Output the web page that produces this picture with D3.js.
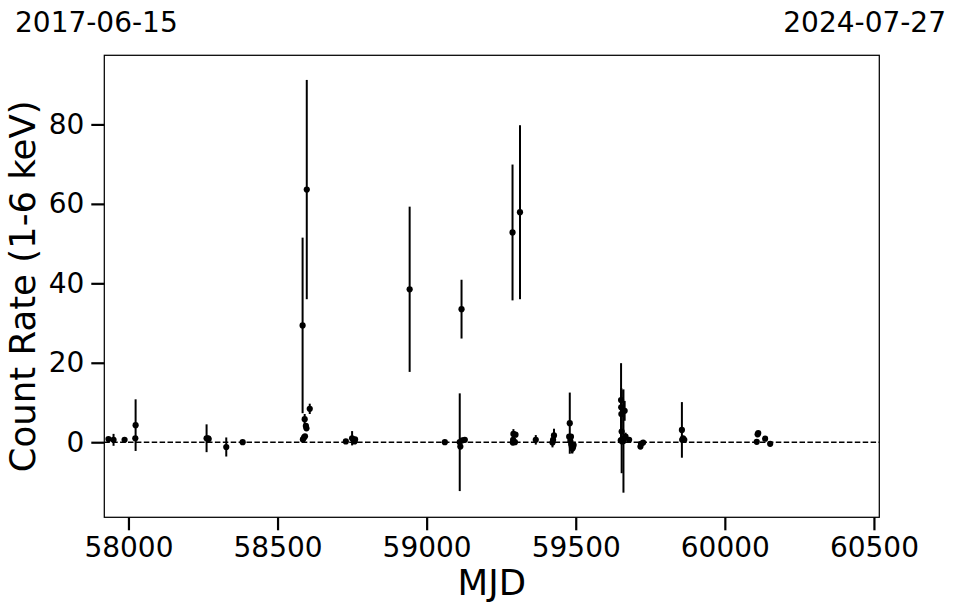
<!DOCTYPE html>
<html>
<head>
<meta charset="utf-8">
<script src="https://cdn.jsdelivr.net/npm/d3@7"></script>
<style>
  html, body { margin: 0; padding: 0; background: #fff; }
  svg text { font-family: "DejaVu Sans", sans-serif; fill: #000; }
</style>
</head>
<body>
<svg id="chart" width="957" height="613"></svg>
<script>
// ---- data ----
const mjd = [57933, 57950, 57987, 58023, 58024, 58262, 58267, 58269, 58328, 58383,
  58584, 58585, 58589, 58591, 58592, 58595, 58597, 58598, 58608,
  58729, 58750, 58755, 58758, 58760,
  58943, 59061, 59111, 59113, 59117, 59120, 59128,
  59288, 59289, 59290, 59291, 59296, 59298, 59313,
  59366, 59422, 59424, 59427,
  59478, 59480, 59482, 59484, 59485, 59487, 59489, 59491, 59493,
  59651, 59652, 59652.5, 59653, 59654, 59655, 59656, 59660, 59664, 59667, 59679,
  59717, 59719, 59726,
  59856, 59857, 59860, 59864,
  60107, 60110, 60112, 60135, 60152];
const rate = [0.8, 0.6, 0.6, 1.0, 4.3, 1.0, 1.0, 0.8, -1.2, 0.0,
  29.4, 0.7, 1.2, 5.8, 1.5, 4.1, 3.5, 63.6, 8.4,
  0.2, 1.0, 0.6, 0.2, 0.7,
  38.5, 0.0, 0.0, -1.1, 33.5, 0.5, 0.6,
  52.8, -0.1, 0.6, 2.1, 0.0, 1.9, 57.9,
  0.6, -0.1, 0.6, 1.7,
  1.4, 4.8, 0.3, 1.4, -0.6, -1.2, -1.6, -1.2, -0.7,
  0.5, 10.6, 8.8, 7.1, 2.7, 0.6, 0.2, 0.3, 7.9, 1.4, 0.6,
  -1.1, -0.4, -0.1,
  3.1, 0.6, 1.0, 0.6,
  0.1, 2.0, 2.3, 0.9, -0.4];
const err = [0.3, 1.5, 0.3, 0.5, 6.5, 3.5, 0.6, 0.5, 2.4, 0.3,
  22.1, 0.4, 0.5, 1.3, 0.4, 0.6, 0.5, 27.6, 1.3,
  0.3, 1.8, 0.5, 0.5, 0.5,
  20.8, 0.3, 12.3, 0.6, 7.4, 0.6, 0.5,
  17.1, 0.5, 0.5, 1.2, 0.4, 0.6, 21.9,
  1.2, 1.2, 0.5, 1.7,
  0.5, 7.7, 1.2, 0.5, 1.5, 1.6, 1.2, 1.1, 0.8,
  0.8, 9.3, 4.0, 6.5, 10.5, 1.0, 0.6, 13.0, 2.5, 1.0, 0.4,
  0.4, 0.3, 0.3,
  7.0, 0.6, 0.6, 0.4,
  0.3, 0.4, 0.3, 0.3, 0.3];
const xTicks = [58000, 58500, 59000, 59500, 60000, 60500];
const yTicks = [0, 20, 40, 60, 80];
const startDate = "2017-06-15";
const endDate = "2024-07-27";
const xLabel = "MJD";
const yLabel = "Count Rate (1-6 keV)";
const xDomain = [57919, 60518];
const yDomain = [-18.9, 97.4];

// ---- layout ----
const svg = d3.select("#chart");
const m = { left: 104.3, top: 55.3, right: 957 - 879.3, bottom: 613 - 517.3 };
const W = 957 - m.left - m.right, H = 613 - m.top - m.bottom;
const g = svg.append("g").attr("transform", `translate(${m.left},${m.top})`);

const x = d3.scaleLinear().domain(xDomain).range([0, W]);
const y = d3.scaleLinear().domain(yDomain).range([H, 0]);

const data = mjd.map((d, i) => ({ t: d, v: rate[i], e: err[i] }));

// zero line
g.append("line")
  .attr("x1", 0).attr("x2", W)
  .attr("y1", y(0)).attr("y2", y(0))
  .attr("stroke", "#000").attr("stroke-width", 1.5)
  .attr("stroke-dasharray", "5.5,2.4");

// error bars
g.append("g").selectAll("line").data(data).join("line")
  .attr("x1", d => x(d.t)).attr("x2", d => x(d.t))
  .attr("y1", d => y(d.v - d.e)).attr("y2", d => y(d.v + d.e))
  .attr("stroke", "#000").attr("stroke-width", 2);

// points
g.append("g").selectAll("circle").data(data).join("circle")
  .attr("cx", d => x(d.t)).attr("cy", d => y(d.v))
  .attr("r", 3.1).attr("fill", "#000");

// frame
g.append("rect").attr("x", 0).attr("y", 0).attr("width", W).attr("height", H)
  .attr("fill", "none").attr("stroke", "#000").attr("stroke-width", 1.25);

// axes
const xAxis = g.append("g").attr("transform", `translate(0,${H})`)
  .call(d3.axisBottom(x).tickValues(xTicks).tickFormat(d3.format("d")).tickSize(13).tickPadding(7));
const yAxis = g.append("g")
  .call(d3.axisLeft(y).tickValues(yTicks).tickFormat(d3.format("d")).tickSize(13).tickPadding(7));
[xAxis, yAxis].forEach(a => {
  a.select(".domain").remove();
  a.selectAll(".tick line").attr("stroke", "#000").attr("stroke-width", 2.2);
  a.selectAll(".tick text").attr("font-size", 28).attr("font-family", "DejaVu Sans").attr("fill", "#000");
});

// axis labels
svg.append("text").attr("x", m.left + W / 2).attr("y", 595)
  .attr("text-anchor", "middle").attr("font-size", 35.5).text(xLabel);
svg.append("text")
  .attr("transform", `translate(35,${m.top + H / 2}) rotate(-90)`)
  .attr("text-anchor", "middle").attr("font-size", 35.5).text(yLabel);

// date labels
svg.append("text").attr("x", 15).attr("y", 32).attr("font-size", 28).text(startDate);
svg.append("text").attr("x", 946).attr("y", 32).attr("text-anchor", "end").attr("font-size", 28).text(endDate);
</script>
</body>
</html>
